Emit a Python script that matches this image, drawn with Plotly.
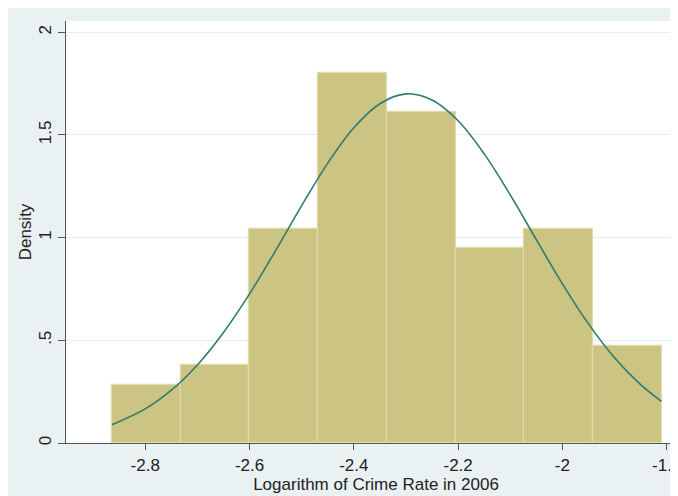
import plotly.graph_objects as go

# Histogram data (density per bin)
bin_start = -2.864
bin_width = 0.1318
bin_density = [0.284, 0.379, 1.043, 1.802, 1.612, 0.948, 1.043, 0.474]

# Normal density overlay
curve_x = [-2.864, -2.80, -2.75, -2.70, -2.65, -2.60, -2.55, -2.50, -2.45, -2.40, -2.35,
           -2.30, -2.25, -2.20, -2.15, -2.10, -2.05, -2.00, -1.95, -1.90, -1.85, -1.81]
curve_y = [0.089, 0.166, 0.257, 0.380, 0.538, 0.726, 0.937, 1.156, 1.363, 1.535, 1.652,
           1.700, 1.670, 1.569, 1.408, 1.208, 0.990, 0.775, 0.580, 0.415, 0.284, 0.203]

x_ticks = [-2.8, -2.6, -2.4, -2.2, -2.0, -1.8]
x_tick_labels = ["-2.8", "-2.6", "-2.4", "-2.2", "-2", "-1.8"]
y_ticks = [0, 0.5, 1, 1.5, 2]
y_tick_labels = ["0", ".5", "1", "1.5", "2"]

bar_centers = [bin_start + bin_width * (i + 0.5) for i in range(len(bin_density))]

BG = "#e9f1f2"
FONT = "Liberation Sans, Arial, Helvetica, sans-serif"

fig = go.Figure()
fig.add_trace(go.Bar(
    x=bar_centers, y=bin_density, width=bin_width,
    marker=dict(color="#cbc482", line=dict(color="#e0dba8", width=1.2)),
    showlegend=False, hoverinfo="skip",
))
fig.add_trace(go.Scatter(
    x=curve_x, y=curve_y, mode="lines",
    line=dict(color="#2e7b72", width=1.6, shape="spline"),
    showlegend=False, hoverinfo="skip",
))

W, H = 678, 496
fig.update_layout(
    width=W, height=H,
    margin=dict(l=58, r=0, t=13, b=61, pad=0),
    paper_bgcolor=BG, plot_bgcolor="white",
    bargap=0,
    font=dict(family=FONT, size=17, color="#222222"),
    xaxis=dict(
        range=[-2.952, -1.763], tickmode="array", tickvals=x_ticks, ticktext=x_tick_labels,
        showgrid=False, zeroline=False, showline=True, linecolor="#555555", linewidth=1.3,
        ticks="outside", ticklen=6, tickwidth=1, tickcolor="#555555",
        tickfont=dict(size=17, color="#222222"),
        title=dict(text="Logarithm of Crime Rate in 2006", font=dict(size=17, color="#222222"), standoff=3),
    ),
    yaxis=dict(
        range=[0, 2.055], tickmode="array", tickvals=y_ticks, ticktext=y_tick_labels,
        showgrid=True, gridcolor="#e4eeef", gridwidth=1.3, zeroline=False,
        showline=True, linecolor="#555555", linewidth=1.3,
        ticks="outside", ticklen=7, tickwidth=1, tickcolor="#555555",
        tickangle=-90, tickfont=dict(size=17, color="#222222"),
        title=dict(text="Density", font=dict(size=17, color="#222222"), standoff=0),
    ),
)

fig.write_html("out.html")
